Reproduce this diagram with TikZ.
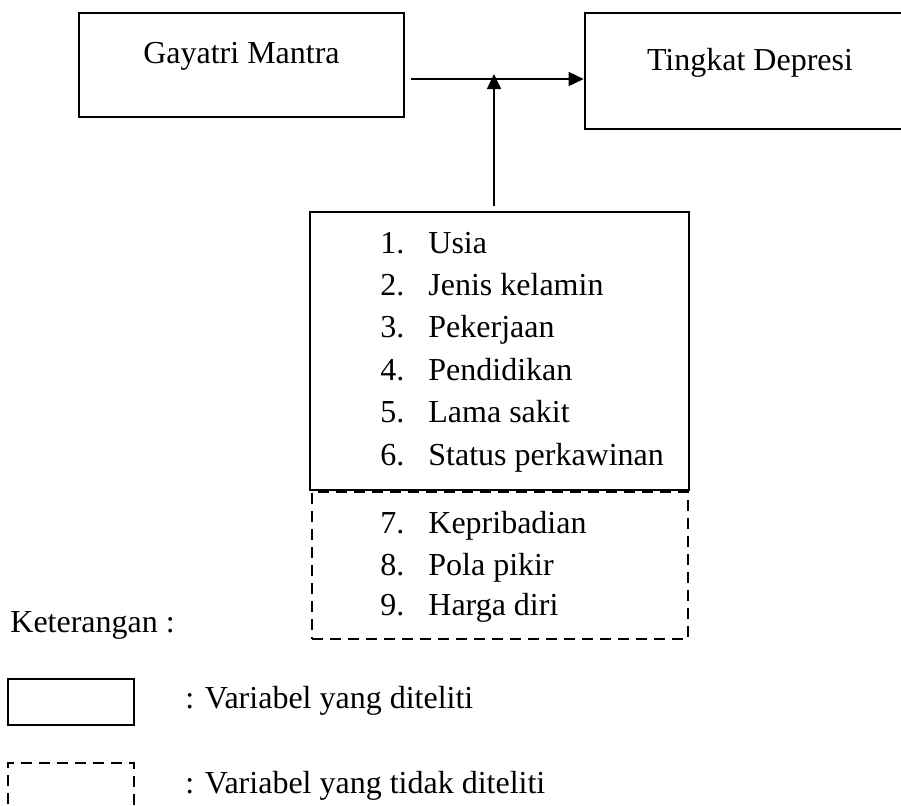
\documentclass[tikz,border=0pt]{standalone}
\usepackage{fontspec}
\setmainfont{Liberation Serif}
\usetikzlibrary{arrows.meta}
\begin{document}
\begin{tikzpicture}[x=0.5pt,y=-0.5pt,
  every node/.style={font=\fontsize{16}{19}\selectfont},
  solidbox/.style={draw,line width=1.3pt,inner sep=0pt,minimum width=#1},
  dashbox/.style={draw,line width=1.35pt,dash pattern=on 5.5pt off 3.5pt,inner sep=0pt},
  lbl/.style={anchor=base,inner sep=0pt},
  itm/.style={anchor=base west,inner sep=0pt},
  conn/.style={line width=0.75pt,-{Triangle[length=7.5pt,width=7pt]}}]
\clip (0,0) rectangle (901,805);
\fill[white] (0,0) rectangle (901,805);
% main boxes
\node[solidbox=162.5pt,minimum height=52pt] (g) at (241.5,65) {};
\node[lbl] (gt) at (241.5,63) {Gayatri Mantra};
\node[solidbox=165pt,minimum height=58pt] (t) at (750,71) {};
\node[lbl] (tt) at (750,70) {Tingkat Depresi};
\node[solidbox=189.5pt,minimum height=139pt] (f) at (499.5,351) {};
\node[dashbox,minimum width=188pt,minimum height=73.5pt] (d) at (500,565.5) {};
% list items
\foreach \n/\txt/\y in {1/Usia/253,2/Jenis kelamin/295,3/Pekerjaan/337,4/Pendidikan/380,5/Lama sakit/422,6/Status perkawinan/465,7/Kepribadian/533,8/Pola pikir/575,9/Harga diri/615}{
  \node[itm] (n\n) at (380,\y) {\n.};
  \node[itm] (i\n) at (428,\y) {\txt};
}
% connectors
\coordinate (a0) at (411,79);
\coordinate (j) at (494,74);
\coordinate (v0) at (494,206);
\draw[conn] (a0) -- (t.west |- a0);
\draw[conn] (v0) -- (j);
% legend
\node[itm] (ket) at (10,632) {Keterangan :};
\node[solidbox=63pt,minimum height=23pt] (ls) at (71,702) {};
\node[itm] (lst) at (185,708) {: Variabel yang diteliti};
\draw[line width=1.35pt,dash pattern=on 5.5pt off 3.5pt] (8,840) -- (8,763) -- (134,763) -- (134,840);
\node[itm] (ldt) at (185,793) {: Variabel yang tidak diteliti};
\end{tikzpicture}
\end{document}
